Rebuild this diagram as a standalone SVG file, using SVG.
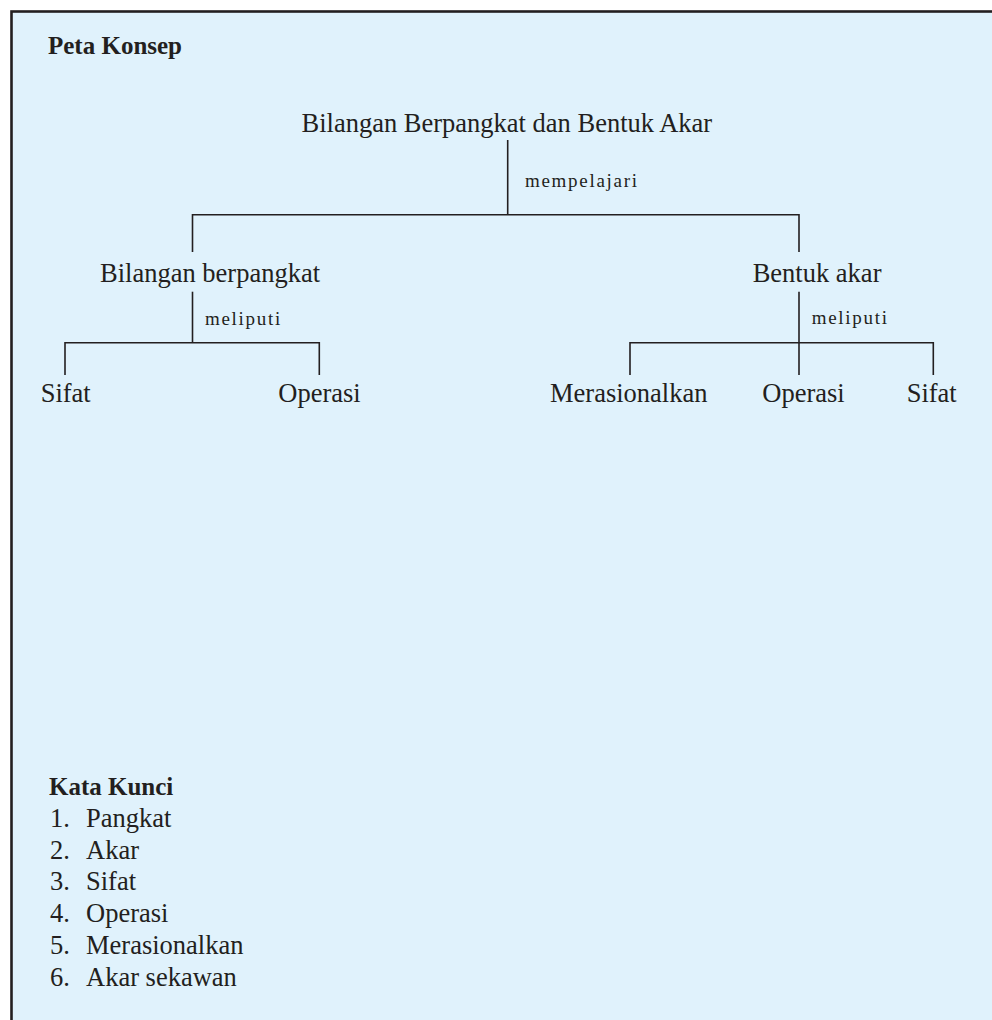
<svg xmlns="http://www.w3.org/2000/svg" width="992" height="1020" viewBox="0 0 992 1020">
<style>
text { font-family: "Liberation Serif", "Times New Roman", serif; fill: #231F20; }
.h { font-size: 25px; font-weight: bold; }
.n { font-size: 26.5px; }
.lbl { font-size: 19px; letter-spacing: 1.7px; }
.c { stroke: #231F20; stroke-width: 1.6; fill: none; }
</style>
<rect x="0" y="0" width="992" height="1020" fill="#FFFFFF"/>
<rect x="11.5" y="11.5" width="1000" height="1030" fill="#E0F2FC" stroke="#231F20" stroke-width="2.6"/>
<text class="h" x="48" y="53.5">Peta Konsep</text>
<g id="connectors">
<path class="c" d="M507.7,140 V214.7"/>
<path class="c" d="M192.5,252 V214.7 H799 V252"/>
<path class="c" d="M192.5,291.7 V342.7"/>
<path class="c" d="M65,375 V342.7 H319.3 V375"/>
<path class="c" d="M799,291.7 V375"/>
<path class="c" d="M630,375 V342.7 H933.3 V375"/>
<text class="lbl" x="525" y="187">mempelajari</text>
<text class="lbl" x="205" y="324.5">meliputi</text>
<text class="lbl" x="811.7" y="323.5">meliputi</text>
</g>
<g id="root"><text class="n" x="301.5" y="131.7">Bilangan Berpangkat dan Bentuk Akar</text></g>
<g id="bilangan-berpangkat"><text class="n" x="100" y="281.7">Bilangan berpangkat</text></g>
<g id="bentuk-akar"><text class="n" x="752.7" y="281.7">Bentuk akar</text></g>
<g id="bp-sifat"><text class="n" x="40.7" y="401.7">Sifat</text></g>
<g id="bp-operasi"><text class="n" x="278.3" y="401.7">Operasi</text></g>
<g id="ba-merasionalkan"><text class="n" x="550" y="401.7">Merasionalkan</text></g>
<g id="ba-operasi"><text class="n" x="762.3" y="401.7">Operasi</text></g>
<g id="ba-sifat"><text class="n" x="906.7" y="401.7">Sifat</text></g>
<g id="kata-kunci">
<text class="h" x="49" y="795">Kata Kunci</text>
<text class="n" x="50" y="826.7">1.</text><text class="n" x="86" y="826.7">Pangkat</text>
<text class="n" x="50" y="858.5">2.</text><text class="n" x="86" y="858.5">Akar</text>
<text class="n" x="50" y="890.4">3.</text><text class="n" x="86" y="890.4">Sifat</text>
<text class="n" x="50" y="922.2">4.</text><text class="n" x="86" y="922.2">Operasi</text>
<text class="n" x="50" y="954.1">5.</text><text class="n" x="86" y="954.1">Merasionalkan</text>
<text class="n" x="50" y="986">6.</text><text class="n" x="86" y="986">Akar sekawan</text>
</g>
</svg>
